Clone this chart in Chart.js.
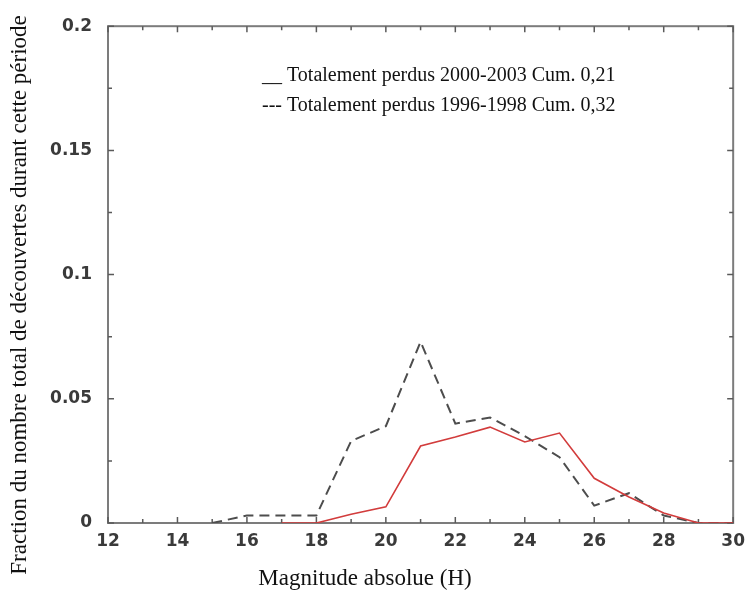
<!DOCTYPE html>
<html>
<head>
<meta charset="utf-8">
<script src="https://cdn.jsdelivr.net/npm/chart.js@4/dist/chart.umd.min.js"></script>
<style>
  html, body { margin: 0; padding: 0; background: #ffffff; }
  canvas { display: block; }
</style>
</head>
<body>
<canvas id="c" width="753" height="592"></canvas>
<script>
// ---- data ----
const magnitudes9698 = [15, 16, 17, 18, 19, 20, 21, 22, 23, 24, 25, 26, 27, 28, 29, 30];
const fractions9698  = [0, 0.003, 0.003, 0.003, 0.033, 0.039, 0.073, 0.040, 0.0425, 0.035, 0.0265, 0.007, 0.012, 0.003, 0, 0];

const magnitudes0003 = [17, 18, 19, 20, 21, 22, 23, 24, 25, 26, 27, 28, 29, 30];
const fractions0003  = [0, 0, 0.0035, 0.0065, 0.031, 0.0346, 0.0386, 0.0326, 0.0362, 0.018, 0.0105, 0.004, 0, 0];

const legendLabels = [
  '__ Totalement perdus 2000-2003 Cum. 0,21',
  '--- Totalement perdus 1996-1998 Cum. 0,32'
];
const xTickLabels = ['12', '14', '16', '18', '20', '22', '24', '26', '28', '30'];
const yTickLabels = ['0', '0.05', '0.1', '0.15', '0.2'];
const xTitle = 'Magnitude absolue (H)';
const yTitle = 'Fraction du nombre total de découvertes durant cette période';

const toPoints = (xs, ys) => xs.map((x, i) => ({ x: x, y: ys[i] }));

// frame + inward ticks on all four sides
const frameTicks = {
  id: 'frameTicks',
  beforeDatasetsDraw(chart) {
    const { ctx, chartArea: a, scales: { x, y } } = chart;
    ctx.save();
    ctx.strokeStyle = '#7c7c7c';
    ctx.lineWidth = 2;
    ctx.strokeRect(a.left, a.top, a.right - a.left, a.bottom - a.top);
    ctx.strokeStyle = '#5a5a5a';
    ctx.lineWidth = 1.5;
    ctx.beginPath();
    for (let v = x.min; v <= x.max; v += 1) {
      const px = x.getPixelForValue(v);
      const L = (v % 2 === 0) ? 6 : 4;
      ctx.moveTo(px, a.bottom); ctx.lineTo(px, a.bottom - L);
      ctx.moveTo(px, a.top); ctx.lineTo(px, a.top + L);
    }
    for (let k = 0; k <= 8; k++) {
      const py = y.getPixelForValue(y.min + k * 0.025);
      const L = (k % 2 === 0) ? 6 : 4;
      ctx.moveTo(a.left, py); ctx.lineTo(a.left + L, py);
      ctx.moveTo(a.right, py); ctx.lineTo(a.right - L, py);
    }
    ctx.stroke();
    ctx.restore();
  }
};

// legend text inside the plot + axis titles
const texts = {
  id: 'texts',
  afterDraw(chart) {
    const { ctx } = chart;
    ctx.save();
    ctx.fillStyle = '#111111';
    ctx.font = '20px "Liberation Serif", "Times New Roman", serif';
    ctx.textAlign = 'left';
    ctx.textBaseline = 'alphabetic';
    chart.data.datasets.forEach((ds, i) => {
      ctx.fillText(ds.label, 262, 81 + i * 30);
    });
    ctx.font = '23px "Liberation Serif", "Times New Roman", serif';
    ctx.textAlign = 'center';
    ctx.fillText(xTitle, 365, 585);
    ctx.translate(20, 295);
    ctx.rotate(-Math.PI / 2);
    ctx.textBaseline = 'middle';
    ctx.fillText(yTitle, 0, 0);
    ctx.restore();
  }
};

new Chart(document.getElementById('c'), {
  type: 'line',
  data: {
    datasets: [
      {
        label: legendLabels[0],
        data: toPoints(magnitudes0003, fractions0003),
        borderColor: '#d23c3c',
        borderWidth: 1.6,
        pointRadius: 0,
        tension: 0,
        fill: false
      },
      {
        label: legendLabels[1],
        data: toPoints(magnitudes9698, fractions9698),
        borderColor: '#4d4d4d',
        borderWidth: 2,
        borderDash: [10, 6],
        pointRadius: 0,
        tension: 0,
        fill: false
      }
    ]
  },
  options: {
    responsive: false,
    animation: false,
    layout: { padding: { top: 24, right: 16, left: 0, bottom: 0 } },
    plugins: {
      legend: { display: false },
      tooltip: { enabled: false },
      title: { display: false }
    },
    scales: {
      x: {
        type: 'linear',
        min: 12, max: 30,
        afterFit(s) { s.height = 69; },
        border: { display: false },
        grid: { display: false, drawTicks: false },
        ticks: {
          stepSize: 2,
          padding: 8,
          color: '#3a3a3a',
          font: { family: '"DejaVu Sans", sans-serif', weight: 'bold', size: 17 },
          maxRotation: 0,
          callback: (v) => xTickLabels[Math.round((v - 12) / 2)]
        }
      },
      y: {
        type: 'linear',
        min: 0, max: 0.2,
        afterFit(s) { s.width = 108; },
        border: { display: false },
        grid: { display: false, drawTicks: false },
        ticks: {
          stepSize: 0.05,
          padding: 16,
          color: '#3a3a3a',
          font: { family: '"DejaVu Sans", sans-serif', weight: 'bold', size: 17 },
          callback: (v) => yTickLabels[Math.round(v / 0.05)]
        }
      }
    }
  },
  plugins: [frameTicks, texts]
});
</script>
</body>
</html>
